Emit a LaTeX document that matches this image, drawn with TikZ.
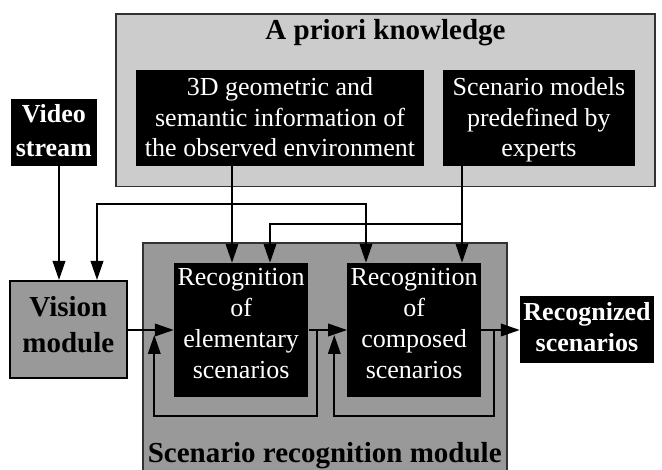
\documentclass[tikz,border=0pt]{standalone}
\usepackage{fontspec}
\setmainfont{Liberation Serif}
\usetikzlibrary{arrows.meta}
\definecolor{lightbox}{RGB}{204,204,204}
\definecolor{midbox}{RGB}{153,153,153}
\definecolor{edgegray}{RGB}{50,50,50}
\begin{document}
\begin{tikzpicture}[x=1pt,y=-1pt,
  boxk/.style={rectangle, inner sep=0pt, fill=black, draw=none},
  grayk/.style={rectangle, inner sep=0pt, fill=midbox, draw=black, line width=2pt},
  lblw/.style={inner sep=0pt, align=center, text=white, anchor=north,
    font=\fontsize{26}{30.7}\selectfont},
  lblb/.style={inner sep=0pt, align=center, text=black, anchor=north,
    font=\bfseries\fontsize{29}{35.7}\selectfont},
  arr/.style={draw=black, line width=2pt, -{Triangle[length=19pt,width=12.5pt]}}
]
\useasboundingbox (0,0) rectangle (662,470);
\clip (0,0) rectangle (662,470);
\fill[white] (0,0) rectangle (662,470);

% A priori knowledge
\node[rectangle, inner sep=0pt, fill=lightbox, draw=edgegray, line width=1.5pt,
      minimum width=539pt, minimum height=172.7pt] (apriori) at (385.5,100.35) {};
\node[inner sep=0pt, anchor=base, font=\bfseries\fontsize{29}{35}\selectfont] (aprioriT) at (385.5,40) {A priori knowledge};
\node[boxk, minimum width=288pt, minimum height=95.7pt] (geo) at (280,117.85) {};
\node[lblw] (geoT) at (280,77.2) {3D geometric and\\semantic information of\\the observed environment};
\node[boxk, minimum width=192.3pt, minimum height=95.7pt] (models) at (538.85,117.85) {};
\node[lblw] (modelsT) at (538.85,77.2) {Scenario models\\predefined by\\experts};

% Video stream
\node[boxk, minimum width=85.7pt, minimum height=66.7pt] (video) at (53.85,132.35) {};
\node[lblw, font=\bfseries\fontsize{26}{34}\selectfont] (videoT) at (53.85,103.9) {Video\\stream};

% Vision module
\node[grayk, minimum width=116.7pt, minimum height=97.3pt] (vision) at (68.35,329.65) {};
\node[lblb] (visionT) at (68.35,296) {Vision\\module};

% Scenario recognition module
\node[rectangle, inner sep=0pt, fill=midbox, draw=edgegray, line width=2pt,
      minimum width=364pt, minimum height=237pt] (srm) at (324.7,361.5) {};
\node[inner sep=0pt, anchor=base, font=\bfseries\fontsize{29}{35}\selectfont] (srmT) at (324.7,463) {Scenario recognition module};

\node[boxk, minimum width=134.3pt, minimum height=133.7pt] (elem) at (241.15,329.85) {};
\node[lblw] (elemT) at (241.15,268.5) {Recognition\\of\\elementary\\scenarios};
\node[boxk, minimum width=133.7pt, minimum height=133.7pt] (comp) at (414.15,329.85) {};
\node[lblw] (compT) at (414.15,268.5) {Recognition\\of\\composed\\scenarios};

% Recognized scenarios
\node[boxk, minimum width=134pt, minimum height=66.7pt] (recog) at (587,329.35) {};
\node[lblw, font=\bfseries\fontsize{26}{31.7}\selectfont] (recogT) at (587,302) {Recognized\\scenarios};

% helper coordinates
\coordinate (vx) at (59,0);
\coordinate (gx) at (232,0);
\coordinate (mx) at (462,0);
\coordinate (b1l) at (97,204);
\coordinate (b1r) at (366,204);
\coordinate (b2) at (270,224);
\coordinate (my) at (0,330);
\coordinate (l1a) at (317.3,330);
\coordinate (l1b) at (154.3,415.7);
\coordinate (l1t) at (154.3,335);
\coordinate (l2a) at (494.3,330);
\coordinate (l2b) at (334.3,415.7);
\coordinate (l2t) at (334.3,335);

% connectors
\draw[arr] (video.south -| vx) -- (vision.north -| vx);
\draw[arr] (geo.south -| gx) -- (elem.north -| gx);
\draw[arr] (gx |- b1l) -- (b1l) -- (vision.north -| b1l);
\draw[arr] (gx |- b1r) -- (b1r) -- (comp.north -| b1r);
\draw[arr] (models.south -| mx) -- (comp.north -| mx);
\draw[arr] (mx |- b2) -- (b2) -- (elem.north -| b2);
\draw[arr] (vision.east |- my) -- (elem.west |- my);
\draw[arr] (elem.east |- my) -- (comp.west |- my);
\draw[arr] (comp.east |- my) -- (recog.west |- my);
\draw[arr] (l1a) |- (l1b) -- (l1t);
\draw[arr] (l2a) |- (l2b) -- (l2t);
\end{tikzpicture}
\end{document}
